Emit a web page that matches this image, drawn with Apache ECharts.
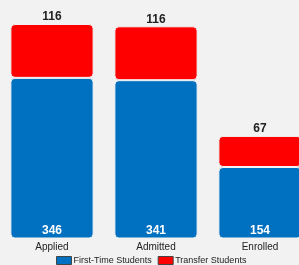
<!DOCTYPE html>
<html>
<head>
<meta charset="utf-8">
<script src="https://cdn.jsdelivr.net/npm/echarts@6/dist/echarts.min.js"></script>
<style>
  html, body { margin: 0; padding: 0; background: #f2f2f2; }
  #chart { width: 299px; height: 265px; }
</style>
</head>
<body>
<div id="chart"></div>
<script>
// admissions funnel, stacked
var categories = ['Applied', 'Admitted', 'Enrolled'];
var firstTime = [346, 341, 154];
var transfer = [116, 116, 67];

var chart = echarts.init(document.getElementById('chart'));

var option = {
    backgroundColor: '#f2f2f2',
    textStyle: { fontFamily: 'Liberation Sans, Arial, sans-serif' },
    animation: false,
    grid: {
        left: 0,
        width: 312,
        top: 24,
        bottom: 26.5,
        outerBoundsMode: 'none',
        containLabel: false
    },
    legend: {
        top: 251,
        left: 51,
        icon: 'rect',
        itemWidth: 15,
        itemHeight: 8,
        itemGap: 6,
        textStyle: { fontSize: 9, color: '#222', padding: [0, 0, 0, -3] },
        itemStyle: { borderColor: '#444', borderWidth: 1 },
        data: ['First-Time Students', 'Transfer Students']
    },
    xAxis: {
        type: 'category',
        data: categories,
        axisLine: { show: false },
        axisTick: { show: false },
        axisLabel: { color: '#222', fontSize: 10, margin: 4 }
    },
    yAxis: {
        type: 'value',
        min: 0,
        max: 462,
        show: false,
        splitLine: { show: false }
    },
    series: [
        {
            name: 'First-Time Students',
            type: 'bar',
            stack: 'total',
            barWidth: '80%',
            data: firstTime,
            itemStyle: { color: '#0070c0', borderRadius: 4, borderColor: '#f2f2f2', borderWidth: 1 },
            label: {
                show: true,
                position: 'insideBottom',
                distance: 2,
                color: '#fff',
                fontSize: 12,
                fontWeight: 'bold'
            }
        },
        {
            name: 'Transfer Students',
            type: 'bar',
            stack: 'total',
            barWidth: '80%',
            data: transfer,
            itemStyle: { color: '#ff0000', borderRadius: 4, borderColor: '#f2f2f2', borderWidth: 1 },
            label: {
                show: true,
                position: 'top',
                distance: 1,
                color: '#222',
                fontSize: 12,
                fontWeight: 'bold'
            }
        }
    ]
};

chart.setOption(option);
</script>
</body>
</html>
